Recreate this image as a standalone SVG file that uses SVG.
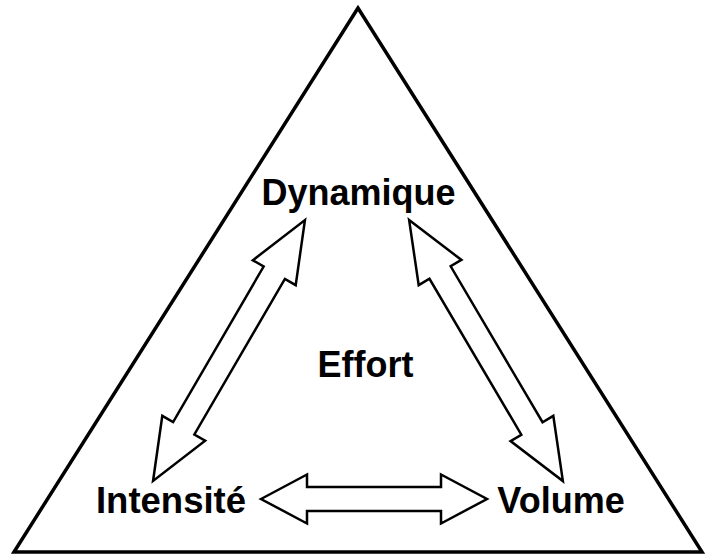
<svg xmlns="http://www.w3.org/2000/svg" width="706" height="557" viewBox="0 0 706 557">
<style>
.lbl{font-family:"Liberation Sans",Arial,sans-serif;font-weight:bold;fill:#000;text-anchor:middle}
.arr{fill:#fff;stroke:#000;stroke-width:2.5;stroke-linejoin:miter}
</style>
<rect width="706" height="557" fill="#fff"/>
<g id="triangle">
<polygon points="358,8 14,552 702,552" fill="none" stroke="#000" stroke-width="3.5" stroke-linejoin="miter"/>
</g>
<g id="connectors">
<polygon class="arr" transform="translate(229,350.5) rotate(120.2)" points="-151,0 -90,-24.8 -90,-12.3 90,-12.3 90,-24.8 151,0 90,24.8 90,12.3 -90,12.3 -90,24.8"/>
<polygon class="arr" transform="translate(486,350.5) rotate(59.5)" points="-151.5,0 -90.5,-24.8 -90.5,-12.3 90.5,-12.3 90.5,-24.8 151.5,0 90.5,24.8 90.5,12.3 -90.5,12.3 -90.5,24.8"/>
<polygon class="arr" points="261,499 307,474.5 307,487 441,487 441,474.5 487,499 441,523.5 441,511 307,511 307,523.5"/>
</g>
<g id="dynamique"><text class="lbl" x="358.5" y="204.5" font-size="36">Dynamique</text></g>
<g id="effort"><text class="lbl" x="365.5" y="376.5" font-size="36">Effort</text></g>
<g id="intensite"><text class="lbl" x="171" y="513" font-size="36.5">Intensité</text></g>
<g id="volume"><text class="lbl" x="561" y="513" font-size="36">Volume</text></g>
</svg>
